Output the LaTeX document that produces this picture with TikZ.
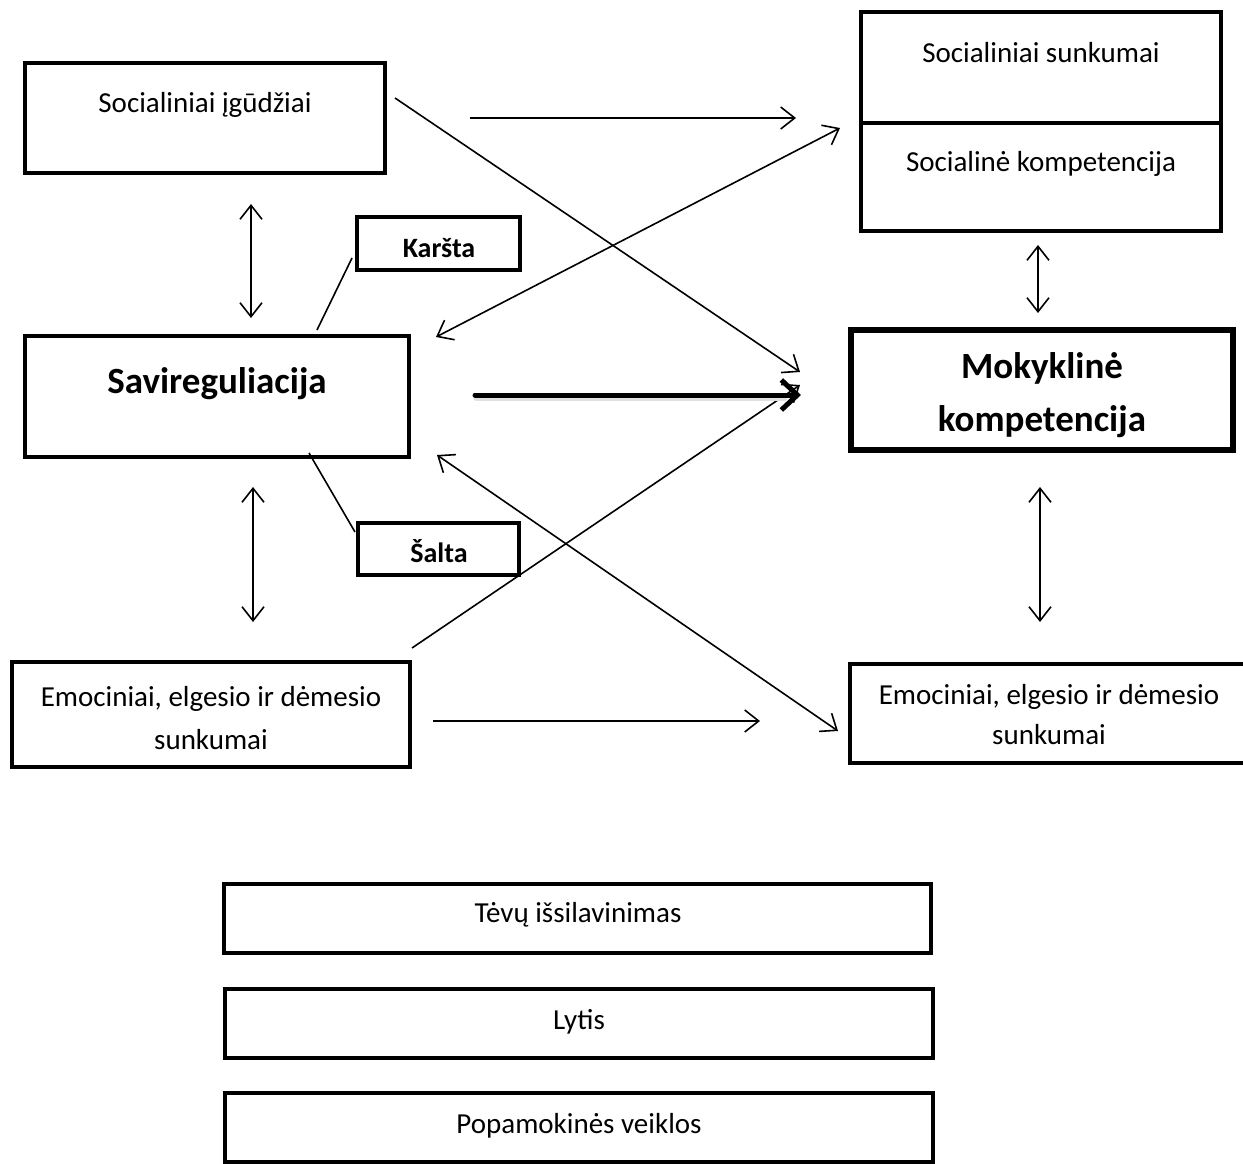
\documentclass[tikz,border=0pt]{standalone}
\usepackage{fontspec}
\setmainfont{Carlito}
\usetikzlibrary{arrows.meta}
\begin{document}
\begin{tikzpicture}[x=1pt,y=-1pt,
  box/.style={draw=black,line width=4.8pt,rectangle,inner sep=0pt,fill=white},
  txt/.style={anchor=base,inner sep=0pt,font=\fontsize{29}{43}\selectfont,align=center},
  txtr/.style={anchor=base,inner sep=0pt,font=\fontsize{29}{40}\selectfont,align=center},
  btxt/.style={anchor=base,inner sep=0pt,font=\fontsize{37}{53}\selectfont\bfseries,align=center},
  stxt/.style={anchor=base,inner sep=0pt,font=\fontsize{28}{34}\selectfont\bfseries},
  conn/.style={line width=1.6pt},
  arr/.style={conn,-{Straight Barb[length=14pt,width=22pt,line width=1.6pt]}},
  darr/.style={conn,{Straight Barb[length=14pt,width=22pt,line width=1.6pt]}-{Straight Barb[length=14pt,width=22pt,line width=1.6pt]}},
  thick arr/.style={line width=5pt,line cap=round,-{Straight Barb[length=16pt,width=30pt,line width=5pt]}},
  shadow line/.style={line width=5pt,line cap=round,draw=black!12}
]
\useasboundingbox (0,0) rectangle (1243,1164);
\clip (0,0) rectangle (1243,1164);

% boxes
\node[box,minimum width=360pt,minimum height=110pt] (soc) at (205,118) {};
\node[box,minimum width=360pt,minimum height=111pt] (socs) at (1041,67.5) {};
\node[box,minimum width=360pt,minimum height=108pt] (sock) at (1041,177) {};
\node[box,minimum width=163pt,minimum height=53pt] (kar) at (438.5,243.5) {};
\node[box,minimum width=384pt,minimum height=121pt] (sav) at (217,396.5) {};
\node[box,minimum width=161pt,minimum height=52pt] (sal) at (438.5,549) {};
\node[box,line width=5.2pt,minimum width=382pt,minimum height=120pt] (mok) at (1042,390) {};
\node[box,minimum width=398pt,minimum height=105pt] (emoL) at (211,714.5) {};
\node[box,minimum width=400pt,minimum height=99pt] (emoR) at (1050,713.5) {};
\node[box,minimum width=707pt,minimum height=69pt] (tev) at (577.5,918.5) {};
\node[box,minimum width=708pt,minimum height=69pt] (lyt) at (579,1023.5) {};
\node[box,minimum width=708pt,minimum height=69pt] (pop) at (579,1127.5) {};

% texts (base anchor = baseline of the last line)
\node[txt] (tsoc) at (205,112) {Socialiniai įgūdžiai};
\node[txt] (tsocs) at (1041,63) {Socialiniai sunkumai};
\node[txt] (tsock) at (1041,171) {Socialinė kompetencija};
\node[stxt] (tkar) at (439,257) {Karšta};
\node[btxt] (tsav) at (217,393) {Savireguliacija};
\node[stxt] (tsal) at (439,562) {Šalta};
\node[btxt] (tmok) at (1042,431) {Mokyklinė\\kompetencija};
\node[txt] (temoL) at (211,749) {Emociniai, elgesio ir dėmesio\\sunkumai};
\node[txtr] (temoR) at (1049,744) {Emociniai, elgesio ir dėmesio\\sunkumai};
\node[txt] (ttev) at (578,922) {Tėvų išsilavinimas};
\node[txt] (tlyt) at (579,1029) {Lytis};
\node[txt] (tpop) at (579,1133) {Popamokinės veiklos};

% connector end points
\coordinate (v1a) at (251,204); \coordinate (v1b) at (251,318);
\coordinate (v2a) at (253,487); \coordinate (v2b) at (253,622);
\coordinate (v3a) at (1038,245); \coordinate (v3b) at (1038,313);
\coordinate (v4a) at (1040,487); \coordinate (v4b) at (1040,622);
\coordinate (h1a) at (470,118); \coordinate (h1b) at (796,118);
\coordinate (h2a) at (433,721); \coordinate (h2b) at (760,721);
\coordinate (d1a) at (395,98); \coordinate (d1b) at (800,372);
\coordinate (d2a) at (436,337); \coordinate (d2b) at (840,128);
\coordinate (d3a) at (412,648); \coordinate (d3b) at (800,385);
\coordinate (d4a) at (437,455); \coordinate (d4b) at (838,731);
\coordinate (ta) at (475,395); \coordinate (tb) at (801,395);
\coordinate (sha) at (476,398); \coordinate (shb) at (785,398);
\coordinate (ka) at (352,258); \coordinate (kb) at (317,330);
\coordinate (sa) at (309,453); \coordinate (sb) at (355,532);

% connectors
\draw[darr] (v1a) -- (v1b);
\draw[darr] (v2a) -- (v2b);
\draw[darr] (v3a) -- (v3b);
\draw[darr] (v4a) -- (v4b);
\draw[arr] (h1a) -- (h1b);
\draw[arr] (h2a) -- (h2b);
\draw[arr] (d1a) -- (d1b);
\draw[darr] (d2a) -- (d2b);
\draw[arr] (d3a) -- (d3b);
\draw[darr] (d4a) -- (d4b);
\draw[conn] (ka) -- (kb);
\draw[conn] (sa) -- (sb);
\draw[shadow line] (sha) -- (shb);
\draw[thick arr] (ta) -- (tb);
\end{tikzpicture}
\end{document}
